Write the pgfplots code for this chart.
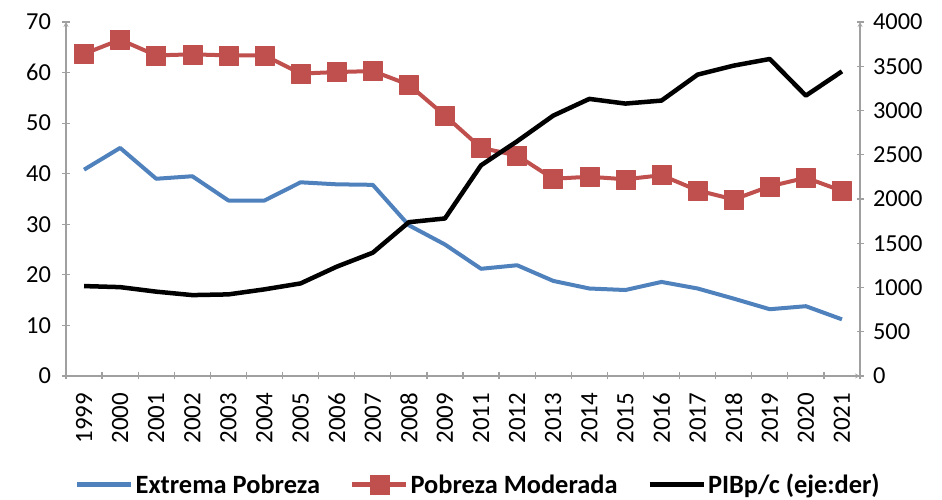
\documentclass[border=0pt]{standalone}
\usepackage{fontspec}
\setmainfont{Carlito}
\usepackage{pgfplots}
\usepackage{pgfplotstable}
\pgfplotsset{compat=1.18}
\definecolor{cblue}{HTML}{4F81BD}
\definecolor{cred}{HTML}{C0504D}
\definecolor{cgray}{HTML}{A0A0A0}
\pgfplotstableread{
x extrema moderada pib
0 40.8 63.7 1016
1 45.1 66.5 1004
2 39.0 63.4 953
3 39.5 63.6 914
4 34.7 63.4 922
5 34.7 63.4 979
6 38.3 59.8 1046
7 37.9 60.1 1235
8 37.8 60.3 1393
9 29.8 57.6 1738
10 26.0 51.5 1780
11 21.2 45.1 2381
12 21.9 43.6 2652
13 18.8 39.0 2942
14 17.3 39.4 3131
15 17.0 38.9 3078
16 18.6 39.7 3112
17 17.3 36.7 3405
18 15.3 34.9 3507
19 13.2 37.5 3582
20 13.8 39.2 3168
21 11.2 36.6 3442
}\datatable
\begin{document}
\begin{tikzpicture}
\pgfplotsset{
  every axis/.append style={
    scale only axis, width=794bp, height=354bp,
    xmin=-0.5, xmax=21.5,
    /pgf/number format/assume math mode=true,
    /pgf/number format/1000 sep={},
    scaled y ticks=false,
    tick label style={font=\fontsize{24.5}{28}\selectfont},
    axis line style={cgray, line width=1.2pt, -},
    tick style={cgray, line width=1.2pt},
    tick align=outside,
    major tick length=7bp,
    minor tick length=7bp,
  },
}
\begin{axis}[
  axis x line=bottom, axis y line=left,
  ymin=0, ymax=70, ytick={0,10,...,70},
  xtick={0,...,21},
  xticklabels={1999,2000,2001,2002,2003,2004,2005,2006,2007,2008,2009,2011,2012,2013,2014,2015,2016,2017,2018,2019,2020,2021},
  x tick label style={yshift=-10bp, rotate=90, anchor=east, font=\fontsize{25}{28}\selectfont},
  major x tick style={draw=none},
  minor xtick={-0.5,0.5,...,21.5},
  yticklabel style={xshift=-8bp},
]
\coordinate (ll) at (rel axis cs:0,0);
\coordinate (ur) at (rel axis cs:1,1);
\addplot[cblue, line width=4bp, line join=round] table[x=x, y=extrema] {\datatable};
\addplot[cred, line width=4bp, line join=round, mark=square*, mark size=9.5bp, mark options={fill=cred, draw=cred, line width=0.5pt}] table[x=x, y=moderada] {\datatable};
\end{axis}
\begin{axis}[
  axis x line=none, axis y line=right,
  ymin=0, ymax=4000, ytick={0,500,...,4000},
  yticklabel style={xshift=6bp},
  legend columns=3,
  legend style={at={(0.5195,-0.307)}, anchor=center, draw=none, fill=none,
    font=\bfseries\fontsize{26.5}{30}\selectfont,
    /tikz/every even column/.append style={column sep=28bp}},
  legend image code/.code={\draw[mark repeat=2,mark phase=2,#1] plot coordinates {(0bp,0bp) (27bp,0bp) (54bp,0bp)};},
]
\addlegendimage{cblue, line width=4.5bp}
\addlegendentry{Extrema Pobreza}
\addlegendimage{cred, line width=4.5bp, mark=square*, mark size=9.5bp, mark options={fill=cred, draw=cred, line width=0.5pt}}
\addlegendentry{Pobreza Moderada}
\addplot[black, line width=4.5bp, line join=round, forget plot] table[x=x, y=pib] {\datatable};
\addlegendimage{black, line width=4.5bp}
\addlegendentry{PIBp/c (eje:der)}
\end{axis}
\pgfresetboundingbox
\path[use as bounding box] ([shift={(-66bp,-124bp)}]ll) rectangle ([shift={(82bp,22bp)}]ur);
\end{tikzpicture}
\end{document}
